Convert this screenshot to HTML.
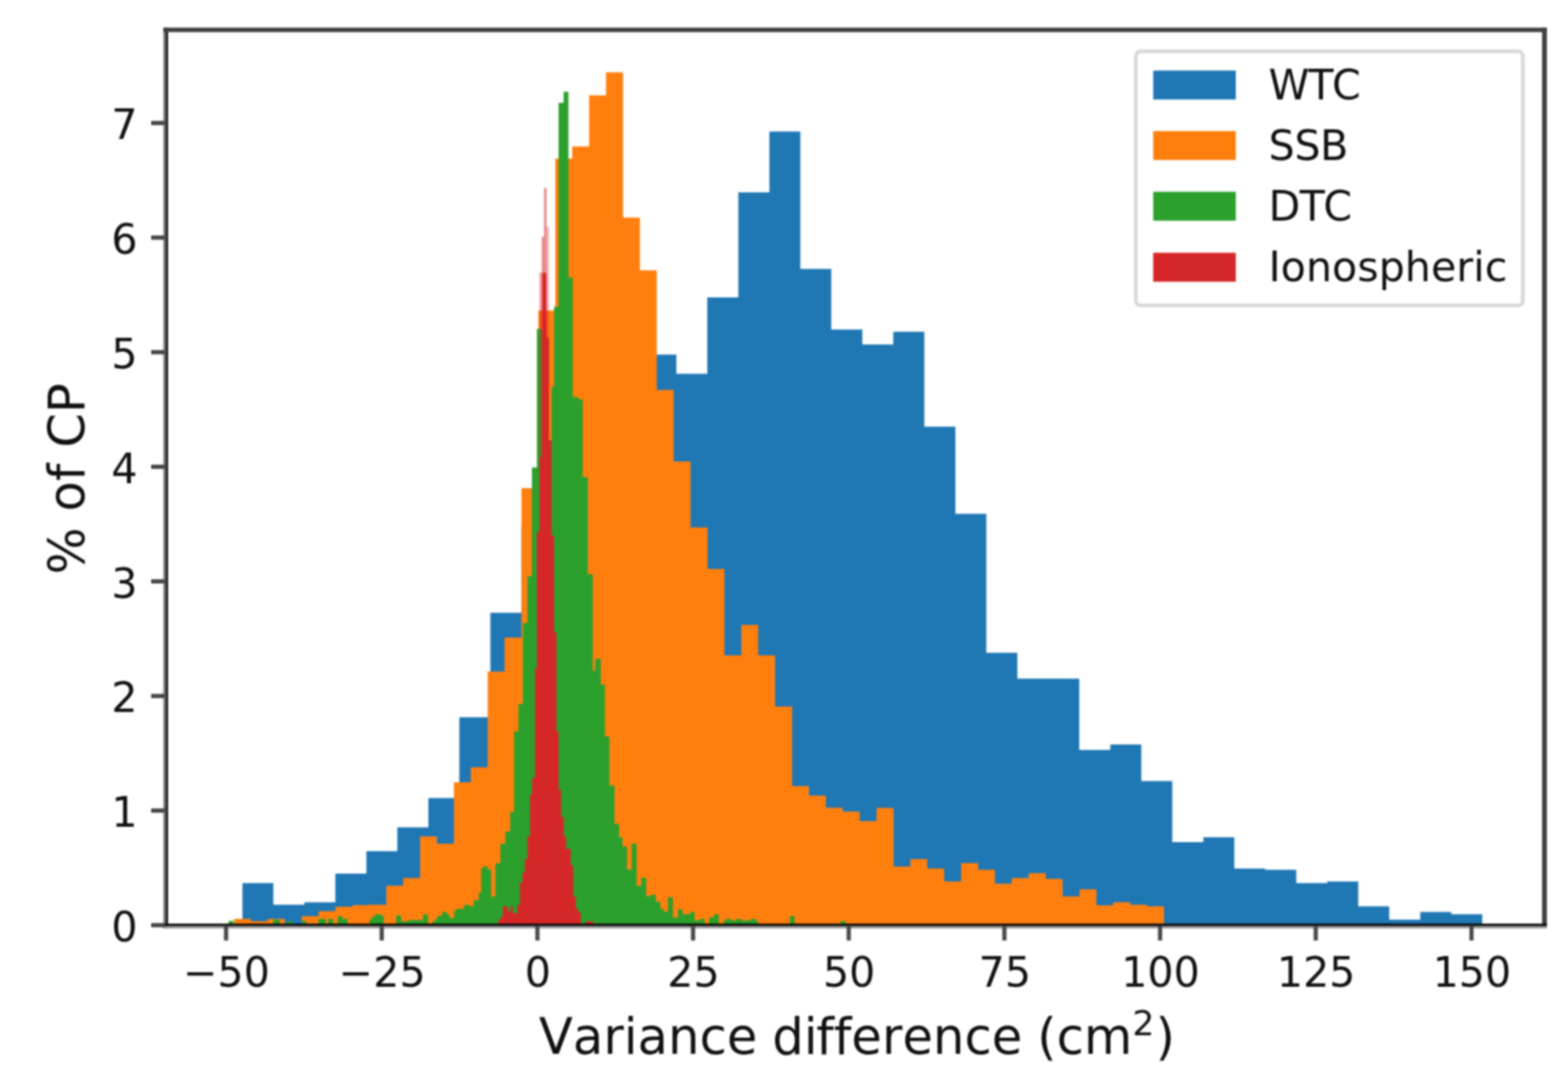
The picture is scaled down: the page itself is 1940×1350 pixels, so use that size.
<!DOCTYPE html>
<html lang="en"><head><meta charset="utf-8"><title>Variance difference histogram</title>
<style>html,body{margin:0;padding:0;background:#fff;}body{width:1940px;height:1350px;overflow:hidden;}svg{display:block;filter:blur(0.9px);}text{font-family:'DejaVu Sans', 'Liberation Sans', sans-serif;fill:#111;font-variant-ligatures:none;font-kerning:none;}</style></head><body>
<svg width="1940" height="1350" viewBox="0 0 1940 1350">
<rect x="0" y="0" width="1940" height="1350" fill="#fff"/>
<g shape-rendering="auto">
<path d="M299.9 1144.3L299.9 1092.8L338.2 1092.8L338.2 1119.6L376.6 1119.6L376.6 1116.5L414.9 1116.5L414.9 1081.0L453.3 1081.0L453.3 1053.2L491.6 1053.2L491.6 1023.7L530.0 1023.7L530.0 987.6L568.3 987.6L568.3 887.6L606.7 887.6L606.7 758.3L645.0 758.3L645.0 650.0L683.4 650.0L683.4 560.0L721.8 560.0L721.8 500.0L760.1 500.0L760.1 470.0L798.5 470.0L798.5 438.7L836.8 438.7L836.8 462.5L875.1 462.5L875.1 367.9L913.5 367.9L913.5 238.0L951.9 238.0L951.9 162.8L990.2 162.8L990.2 332.7L1028.5 332.7L1028.5 407.7L1066.9 407.7L1066.9 426.3L1105.2 426.3L1105.2 410.4L1143.6 410.4L1143.6 528.0L1182.0 528.0L1182.0 635.7L1220.3 635.7L1220.3 807.8L1258.7 807.8L1258.7 839.8L1297.0 839.8L1297.0 839.8L1335.3 839.8L1335.3 928.0L1373.7 928.0L1373.7 921.2L1412.1 921.2L1412.1 966.5L1450.4 966.5L1450.4 1042.0L1488.8 1042.0L1488.8 1036.1L1527.1 1036.1L1527.1 1074.8L1565.4 1074.8L1565.4 1076.3L1603.8 1076.3L1603.8 1092.8L1642.2 1092.8L1642.2 1090.7L1680.5 1090.7L1680.5 1121.6L1718.8 1121.6L1718.8 1138.1L1757.2 1138.1L1757.2 1128.5L1795.6 1128.5L1795.6 1131.3L1833.9 1131.3L1833.9 1144.3Z" fill="#1f77b4"/>
<path d="M289.6 1144.3L289.6 1136.9L310.5 1136.9L310.5 1140.0L331.4 1140.0L331.4 1137.0L352.4 1137.0L352.4 1144.3ZM373.3 1144.3L373.3 1133.8L394.2 1133.8L394.2 1127.6L415.1 1127.6L415.1 1122.0L436.0 1122.0L436.0 1119.9L457.0 1119.9L457.0 1119.6L477.9 1119.6L477.9 1095.9L498.8 1095.9L498.8 1086.6L519.7 1086.6L519.7 1035.1L540.6 1035.1L540.6 1043.9L561.6 1043.9L561.6 968.0L582.5 968.0L582.5 949.5L603.4 949.5L603.4 831.0L624.3 831.0L624.3 789.0L645.2 789.0L645.2 603.9L666.2 603.9L666.2 384.3L687.1 384.3L687.1 196.2L708.0 196.2L708.0 181.3L728.9 181.3L728.9 117.9L749.8 117.9L749.8 89.6L770.8 89.6L770.8 269.2L791.7 269.2L791.7 334.5L812.6 334.5L812.6 482.6L833.5 482.6L833.5 570.9L854.4 570.9L854.4 652.8L875.4 652.8L875.4 704.1L896.3 704.1L896.3 811.0L917.2 811.0L917.2 773.2L938.1 773.2L938.1 811.0L959.0 811.0L959.0 874.2L980.0 874.2L980.0 972.8L1000.9 972.8L1000.9 984.5L1021.8 984.5L1021.8 999.6L1042.7 999.6L1042.7 1004.3L1063.6 1004.3L1063.6 1016.0L1084.6 1016.0L1084.6 999.8L1105.5 999.8L1105.5 1072.2L1126.4 1072.2L1126.4 1062.9L1147.3 1062.9L1147.3 1074.8L1168.2 1074.8L1168.2 1090.7L1189.2 1090.7L1189.2 1068.0L1210.1 1068.0L1210.1 1076.3L1231.0 1076.3L1231.0 1093.4L1251.9 1093.4L1251.9 1086.6L1272.8 1086.6L1272.8 1080.4L1293.8 1080.4L1293.8 1087.6L1314.7 1087.6L1314.7 1109.3L1335.6 1109.3L1335.6 1100.4L1356.5 1100.4L1356.5 1120.2L1377.4 1120.2L1377.4 1116.5L1398.4 1116.5L1398.4 1119.6L1419.3 1119.6L1419.3 1121.6L1440.2 1121.6L1440.2 1144.3Z" fill="#ff7f0e"/>
<path d="M282.9 1144.3L282.9 1139.5L289.1 1139.5L289.1 1144.3ZM338.0 1144.3L338.0 1138.0L346.3 1138.0L346.3 1144.3ZM355.0 1144.3L355.0 1140.0L361.2 1140.0L361.2 1144.3ZM373.1 1144.3L373.1 1139.5L378.8 1139.5L378.8 1144.3ZM394.2 1144.3L394.2 1137.0L403.0 1137.0L403.0 1144.3ZM406.1 1144.3L406.1 1137.0L412.3 1137.0L412.3 1144.3ZM417.9 1144.3L417.9 1133.8L424.1 1133.8L424.1 1137.0L429.8 1137.0L429.8 1144.3ZM457.2 1144.3L457.2 1137.8L460.3 1137.8L460.3 1134.2L463.4 1134.2L463.4 1131.6L472.2 1131.6L472.2 1133.0L474.7 1133.0L474.7 1144.3ZM490.2 1144.3L490.2 1132.7L496.4 1132.7L496.4 1139.9L505.7 1139.9L505.7 1138.4L523.2 1138.4L523.2 1131.6L529.4 1131.6L529.4 1144.3ZM535.1 1144.3L535.1 1139.9L538.7 1139.9L538.7 1136.8L541.2 1136.8L541.2 1133.2L546.9 1133.2L546.9 1128.6L553.1 1128.6L553.1 1131.6L556.2 1131.6L556.2 1135.8L561.9 1135.8L561.9 1126.5L564.9 1126.5L564.9 1124.4L574.2 1124.4L574.2 1119.8L580.4 1119.8L580.4 1121.3L586.1 1121.3L586.1 1114.1L592.3 1114.1L592.3 1104.8L595.4 1104.8L595.4 1073.9L598.5 1073.9L598.5 1071.9L603.6 1071.9L603.6 1076.0L607.7 1076.0L607.7 1109.5L612.9 1109.5L612.9 1068.2L619.1 1068.2L619.1 1044.0L625.3 1044.0L625.3 1029.1L631.2 1029.1L631.2 1004.5L636.0 1004.5L636.0 905.0L641.5 905.0L641.5 870.9L647.0 870.9L647.0 770.9L652.6 770.9L652.6 713.1L658.1 713.1L658.1 578.5L664.3 578.5L664.3 407.0L673.0 407.0L673.0 545.0L682.4 545.0L682.4 478.6L685.5 478.6L685.5 379.6L691.1 379.6L691.1 127.3L697.3 127.3L697.3 113.4L703.3 113.4L703.3 343.4L708.7 343.4L708.7 491.3L715.4 491.3L715.4 494.0L721.0 494.0L721.0 590.3L727.2 590.3L727.2 710.5L733.4 710.5L733.4 829.7L736.6 829.7L736.6 815.3L743.3 815.3L743.3 847.2L748.5 847.2L748.5 911.2L754.1 911.2L754.1 972.0L760.3 972.0L760.3 1019.4L766.0 1019.4L766.0 1035.9L770.1 1035.9L770.1 1047.3L775.8 1047.3L775.8 1076.1L781.5 1076.1L781.5 1043.7L787.7 1043.7L787.7 1096.2L793.4 1096.2L793.4 1085.9L799.6 1085.9L799.6 1109.1L805.3 1109.1L805.3 1107.1L811.4 1107.1L811.4 1115.8L817.1 1115.8L817.1 1124.6L821.2 1124.6L821.2 1128.2L826.4 1128.2L826.4 1110.2L832.6 1110.2L832.6 1135.4L838.8 1135.4L838.8 1125.1L844.4 1125.1L844.4 1131.3L853.7 1131.3L853.7 1128.2L859.4 1128.2L859.4 1139.0L865.6 1139.0L865.6 1137.0L871.8 1137.0L871.8 1144.3ZM877.4 1144.3L877.4 1134.9L883.6 1134.9L883.6 1131.3L889.3 1131.3L889.3 1144.3ZM895.5 1144.3L895.5 1139.0L898.6 1139.0L898.6 1137.0L904.8 1137.0L904.8 1139.0L910.9 1139.0L910.9 1137.0L917.1 1137.0L917.1 1139.0L928.5 1139.0L928.5 1137.0L934.6 1137.0L934.6 1139.0L937.7 1139.0L937.7 1144.3ZM977.3 1144.3L977.3 1133.6L983.2 1133.6L983.2 1144.3ZM1040.0 1144.3L1040.0 1139.8L1046.2 1139.8L1046.2 1144.3Z" fill="#2ca02c"/>
<rect x="667.4" y="337.2" width="2.9" height="228.4" fill="#d62728" fill-opacity="0.45"/>
<rect x="670.3" y="292.9" width="2.8" height="44.3" fill="#d62728" fill-opacity="0.55"/>
<rect x="673.1" y="232.5" width="3.1" height="104.7" fill="#d62728" fill-opacity="0.55"/>
<rect x="676.2" y="280.5" width="3.1" height="137.2" fill="#d62728" fill-opacity="0.35"/>
<path d="M616.5 1144.3L616.5 1138.0L619.6 1138.0L619.6 1133.9L622.2 1133.9L622.2 1121.5L628.4 1121.5L628.4 1127.7L631.4 1127.7L631.4 1121.5L634.5 1121.5L634.5 1130.0L640.2 1130.0L640.2 1119.4L643.3 1119.4L643.3 1092.1L646.4 1092.1L646.4 1079.7L649.5 1079.7L649.5 1062.7L652.6 1062.7L652.6 1034.9L655.7 1034.9L655.7 983.4L658.2 983.4L658.2 962.8L661.9 962.8L661.9 826.6L664.3 826.6L664.3 658.5L667.4 658.5L667.4 565.6L670.5 565.6L670.5 337.2L676.2 337.2L676.2 417.7L679.3 417.7L679.3 545.0L682.4 545.0L682.4 662.6L685.5 662.6L685.5 782.3L688.4 782.3L688.4 905.0L691.2 905.0L691.2 977.2L694.3 977.2L694.3 1010.7L697.4 1010.7L697.4 1034.9L700.5 1034.9L700.5 1050.4L706.2 1050.4L706.2 1071.0L709.3 1071.0L709.3 1109.6L712.4 1109.6L712.4 1124.6L715.5 1124.6L715.5 1128.7L718.6 1128.7L718.6 1144.3ZM724.7 1144.3L724.7 1140.0L734.0 1140.0L734.0 1144.3Z" fill="#d62728"/>
</g>
<g>
<rect x="202" y="34.2" width="3" height="1114.5" fill="#808080"/>
<rect x="205" y="34.2" width="3" height="1112" fill="#1e1e1e"/>
<rect x="1907.9" y="34.2" width="6" height="1112" fill="#404040"/>
<rect x="202" y="34.2" width="1711.9" height="5.5" fill="#404040"/>
<rect x="202" y="1142.9" width="1711.9" height="3" fill="#080808"/>
<rect x="202" y="1145.9" width="1711.9" height="3" fill="#999"/>
<rect x="277.1" y="1145.5" width="5.2" height="18.3" fill="#4a4a4a"/>
<rect x="469.7" y="1145.5" width="5.2" height="18.3" fill="#4a4a4a"/>
<rect x="662.3" y="1145.5" width="5.2" height="18.3" fill="#4a4a4a"/>
<rect x="854.9" y="1145.5" width="5.2" height="18.3" fill="#4a4a4a"/>
<rect x="1047.5" y="1145.5" width="5.2" height="18.3" fill="#4a4a4a"/>
<rect x="1240.1" y="1145.5" width="5.2" height="18.3" fill="#4a4a4a"/>
<rect x="1432.7" y="1145.5" width="5.2" height="18.3" fill="#4a4a4a"/>
<rect x="1625.3" y="1145.5" width="5.2" height="18.3" fill="#4a4a4a"/>
<rect x="1818.0" y="1145.5" width="5.2" height="18.3" fill="#4a4a4a"/>
<rect x="187" y="1142.2" width="17" height="5.2" fill="#444"/>
<rect x="187" y="1000.4" width="17" height="5.2" fill="#444"/>
<rect x="187" y="858.6" width="17" height="5.2" fill="#444"/>
<rect x="187" y="716.8" width="17" height="5.2" fill="#444"/>
<rect x="187" y="575.0" width="17" height="5.2" fill="#444"/>
<rect x="187" y="433.2" width="17" height="5.2" fill="#444"/>
<rect x="187" y="291.4" width="17" height="5.2" fill="#444"/>
<rect x="187" y="149.6" width="17" height="5.2" fill="#444"/>
</g>
<g font-size="51.0" text-anchor="middle">
<text x="280.2" y="1221">−50</text>
<text x="472.8" y="1221">−25</text>
<text x="665.4" y="1221">0</text>
<text x="858.0" y="1221">25</text>
<text x="1050.6" y="1221">50</text>
<text x="1243.2" y="1221">75</text>
<text x="1435.8" y="1221">100</text>
<text x="1628.4" y="1221">125</text>
<text x="1821.1" y="1221">150</text>
</g>
<g font-size="51.0" text-anchor="end">
<text x="170.3" y="1165.0">0</text>
<text x="170.3" y="1023.2">1</text>
<text x="170.3" y="881.4">2</text>
<text x="170.3" y="739.6">3</text>
<text x="170.3" y="597.8">4</text>
<text x="170.3" y="456.0">5</text>
<text x="170.3" y="314.2">6</text>
<text x="170.3" y="172.4">7</text>
</g>
<text x="666.7" y="1304.4" dx="0 0 0 0 0 0 0 0 0 -1.3 0 -1.6 0 0 0 0 0 0 0 0 -1.3 0 0" font-size="61.5">Variance difference (cm<tspan font-size="43" dy="-23" dx="0.1">2</tspan><tspan dy="23" dx="1.3">)</tspan></text>
<text transform="translate(103.8 592.5) rotate(-90)" font-size="61.5" text-anchor="middle">% of CP</text>
<g>
<rect x="1405.3" y="63.5" width="478.8" height="314.5" rx="6" ry="6" fill="#fff" fill-opacity="0.8" stroke="#d8d8d8" stroke-width="4.6"/>
<rect x="1426.8" y="87.3" width="102.2" height="35.8" fill="#1f77b4"/>
<text x="1569.4" y="122.9" dx="0 -1.1 -1.8" font-size="51.0">WTC</text>
<rect x="1426.8" y="162.2" width="102.2" height="35.8" fill="#ff7f0e"/>
<text x="1569.4" y="197.8" dx="0 -0.4 -0.4" font-size="51.0">SSB</text>
<rect x="1426.8" y="237.3" width="102.2" height="35.8" fill="#2ca02c"/>
<text x="1569.4" y="272.9" dx="0 -0.8 -1.7" font-size="51.0">DTC</text>
<rect x="1426.8" y="312.8" width="102.2" height="35.8" fill="#d62728"/>
<text x="1569.4" y="348.4" dx="0" font-size="51.0">Ionospheric</text>
</g>
</svg></body></html>
